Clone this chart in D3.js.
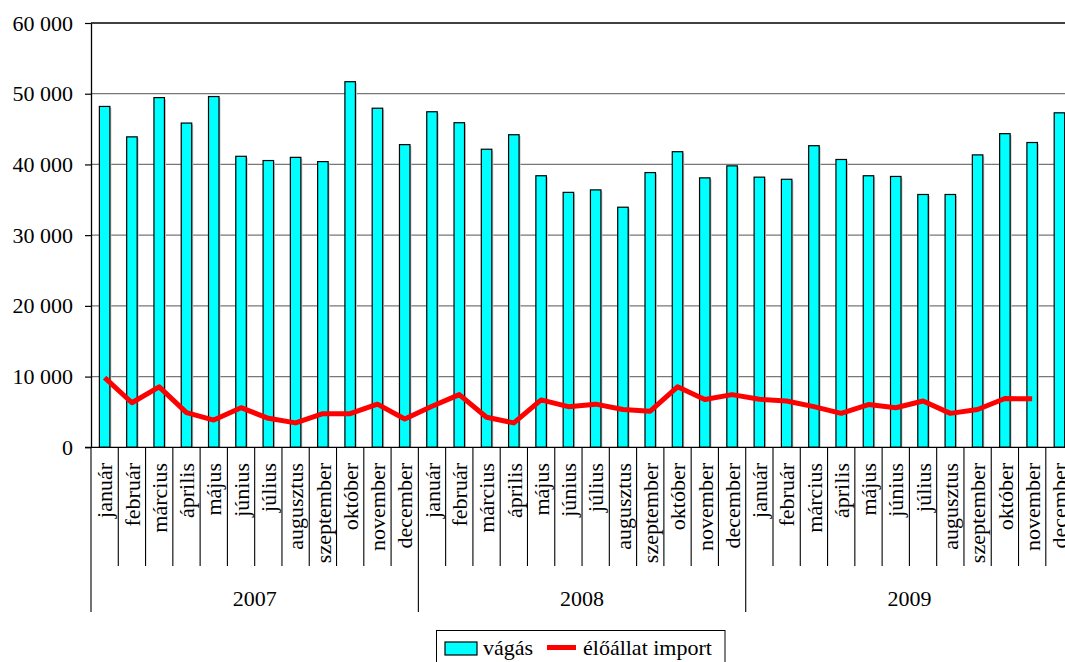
<!DOCTYPE html>
<html>
<head>
<meta charset="utf-8">
<script src="https://cdn.jsdelivr.net/npm/d3@7"></script>
<style>
  body { margin: 0; background: #fff; }
</style>
</head>
<body>
<div id="chart"></div>
<script>
var svgWidth = 1065;
var svgHeight = 662;

// data
var years = ["2007", "2008", "2009"];
var months = ["január", "február", "március", "április", "május", "június",
  "július", "augusztus", "szeptember", "október", "november", "december"];
var vagas = [
  48200, 43900, 49450, 45850, 49600, 41150, 40550, 41000, 40400, 51700, 47950, 42800,
  47450, 45900, 42150, 44200, 38400, 36050, 36400, 33950, 38850, 41800, 38100, 39800,
  38200, 37900, 42650, 40700, 38400, 38300, 35750, 35750, 41350, 44350, 43100, 47300
];
var import_ = [
  9850, 6300, 8550, 4900, 3850, 5600, 4100, 3450, 4750, 4750, 6100, 4000,
  5800, 7450, 4250, 3450, 6700, 5750, 6100, 5350, 5100, 8550, 6750, 7450,
  6800, 6550, 5750, 4800, 6050, 5600, 6550, 4800, 5350, 6900, 6850, null
];
var yTicks = [0, 10000, 20000, 30000, 40000, 50000, 60000];

// pick the first serif font that is really installed
function pickFont(list) {
  var ctx = document.createElement("canvas").getContext("2d");
  var sample = "mmwwiilj 0123456789 ábcőé";
  ctx.font = "40px monospace";
  var base = ctx.measureText(sample).width;
  for (var i = 0; i < list.length; i++) {
    ctx.font = "40px '" + list[i] + "', monospace";
    if (Math.abs(ctx.measureText(sample).width - base) > 0.5) return "'" + list[i] + "'";
  }
  return "serif";
}
var fontStack = pickFont(["Liberation Serif", "Tinos", "Times New Roman", "DejaVu Serif", "Noto Serif"]) + ", serif";

var margin = { top: 23, left: 91 };
var plotBottom = 447.3;
var step = 27.28;
var plotRight = margin.left + step * 36;

var svg = d3.select("#chart").append("svg")
  .attr("width", svgWidth)
  .attr("height", svgHeight)
  .style("font-family", fontStack);

var idx = d3.range(36);

// band scale for the bars, and a plain one for the separators
var xBar = d3.scaleBand()
  .domain(idx)
  .range([margin.left, plotRight])
  .paddingInner(0.615)
  .paddingOuter(0.3075);

var xCat = d3.scaleBand()
  .domain(idx)
  .range([margin.left, plotRight]);

var y = d3.scaleLinear()
  .domain([0, 60000])
  .range([plotBottom, margin.top]);

// gridlines
svg.append("g")
  .selectAll("line")
  .data(yTicks.filter(d => d > 0))
  .enter()
  .append("line")
  .attr("x1", margin.left)
  .attr("x2", plotRight)
  .attr("y1", d => y(d))
  .attr("y2", d => y(d))
  .attr("stroke", d => d === 60000 ? "#000" : "#777")
  .attr("stroke-width", 1.3);

// bars (light shadow first, like the original)
svg.append("g")
  .selectAll("rect")
  .data(vagas)
  .enter()
  .append("rect")
  .attr("x", (d, i) => xBar(i) + 1.5)
  .attr("y", d => y(d) + 1.5)
  .attr("width", xBar.bandwidth())
  .attr("height", d => plotBottom - y(d) - 1.5)
  .attr("fill", "#c8c8c8");

svg.append("g")
  .selectAll("rect")
  .data(vagas)
  .enter()
  .append("rect")
  .attr("x", (d, i) => xBar(i))
  .attr("y", d => y(d))
  .attr("width", xBar.bandwidth())
  .attr("height", d => plotBottom - y(d))
  .attr("fill", "#00ffff")
  .attr("stroke", "#000")
  .attr("stroke-width", 1.2);

// red line
var line = d3.line()
  .defined(d => d !== null)
  .x((d, i) => xBar(i) + xBar.bandwidth() / 2)
  .y(d => y(d));

svg.append("path")
  .datum(import_)
  .attr("d", line)
  .attr("fill", "none")
  .attr("stroke", "#ff0000")
  .attr("stroke-width", 5)
  .attr("stroke-linejoin", "round");

// y axis
var leftAxis = d3.axisLeft(y)
  .tickValues(yTicks)
  .tickSize(6)
  .tickSizeOuter(0)
  .tickPadding(12)
  .tickFormat(d => d3.format(",")(d).replace(/,/g, " "));

var yAxis = svg.append("g")
  .attr("transform", `translate(${margin.left},0)`)
  .call(leftAxis)
  .attr("font-family", fontStack)
  .attr("font-size", 22);
yAxis.selectAll("text").attr("fill", "#000");
yAxis.selectAll("line").attr("stroke", "#000").attr("stroke-width", 1.2);
yAxis.select(".domain").attr("stroke", "#000").attr("stroke-width", 1.3);

// x axis baseline
svg.append("line")
  .attr("x1", margin.left - 6)
  .attr("x2", plotRight)
  .attr("y1", plotBottom)
  .attr("y2", plotBottom)
  .attr("stroke", "#000")
  .attr("stroke-width", 1.3);

// month / year separators
svg.append("g")
  .selectAll("line")
  .data(d3.range(37))
  .enter()
  .append("line")
  .attr("x1", d => d < 36 ? xCat(d) : plotRight)
  .attr("x2", d => d < 36 ? xCat(d) : plotRight)
  .attr("y1", plotBottom)
  .attr("y2", d => d % 12 === 0 ? 612 : 566)
  .attr("stroke", "#000")
  .attr("stroke-width", 1.1);

// month labels
svg.append("g")
  .selectAll("text")
  .data(idx)
  .enter()
  .append("text")
  .attr("transform", d => `translate(${xBar(d) + xBar.bandwidth() / 2},463) rotate(-90)`)
  .attr("text-anchor", "end")
  .attr("dy", "0.35em")
  .attr("font-size", 22)
  .text(d => months[d % 12]);

// year labels
svg.append("g")
  .selectAll("text")
  .data(years)
  .enter()
  .append("text")
  .attr("x", (d, i) => xCat(i * 12) + step * 6)
  .attr("y", 606)
  .attr("text-anchor", "middle")
  .attr("font-size", 22)
  .text(d => d);

// legend
var legend = svg.append("g");
legend.append("rect")
  .attr("x", 436.5)
  .attr("y", 630.5)
  .attr("width", 288.5)
  .attr("height", 45)
  .attr("fill", "#fff")
  .attr("stroke", "#000")
  .attr("stroke-width", 1);
legend.append("rect")
  .attr("x", 445)
  .attr("y", 642)
  .attr("width", 32)
  .attr("height", 13)
  .attr("fill", "#00ffff")
  .attr("stroke", "#000")
  .attr("stroke-width", 1.2);
legend.append("text")
  .attr("x", 483)
  .attr("y", 655)
  .attr("font-size", 22)
  .text("vágás");
legend.append("line")
  .attr("x1", 547)
  .attr("x2", 576)
  .attr("y1", 647.5)
  .attr("y2", 647.5)
  .attr("stroke", "#ff0000")
  .attr("stroke-width", 5);
legend.append("text")
  .attr("x", 583)
  .attr("y", 655)
  .attr("font-size", 22)
  .text("élőállat import");
</script>
</body>
</html>
